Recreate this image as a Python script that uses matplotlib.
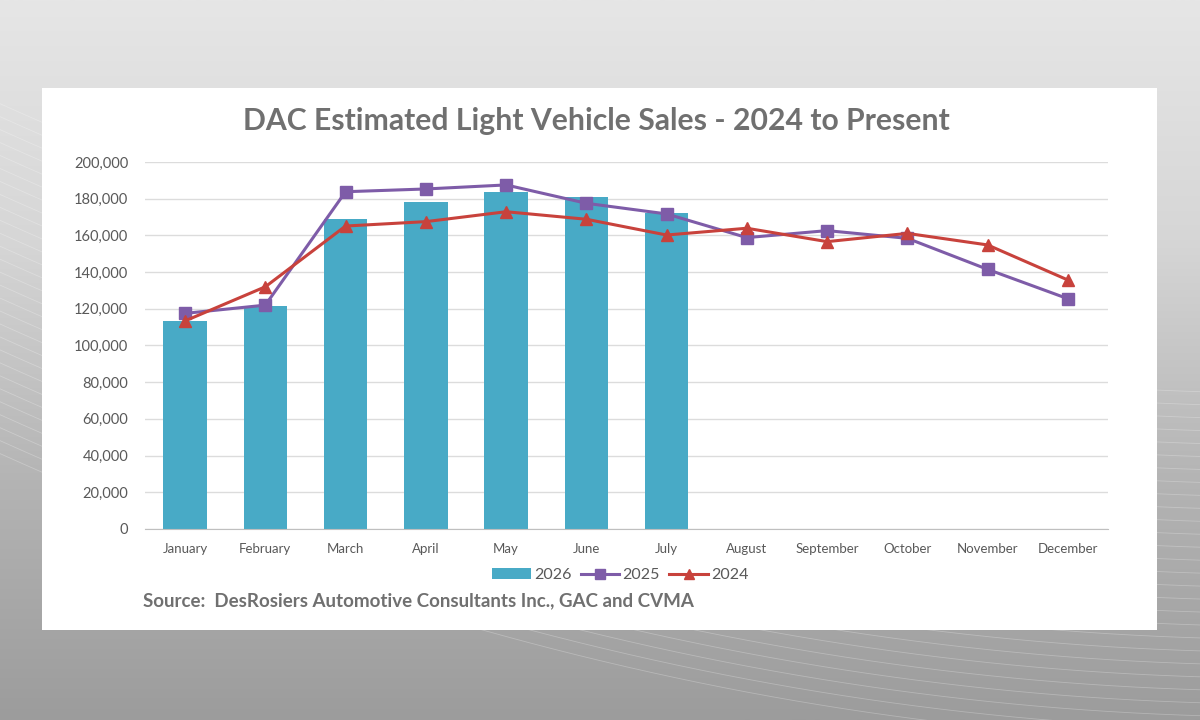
import numpy as np
import matplotlib
matplotlib.use("Agg")
import matplotlib.pyplot as plt
from matplotlib.patches import Rectangle, Patch
from matplotlib.lines import Line2D
from matplotlib.ticker import FuncFormatter


MONTHS = ["January", "February", "March", "April", "May", "June", "July",
          "August", "September", "October", "November", "December"]

SALES_2026 = [113500, 121500, 168800, 178000, 183500, 181000, 172000]
SALES_2025 = [117500, 122000, 183800, 185300, 187500, 177500, 171700,
              158800, 162600, 158400, 141500, 125500]
SALES_2024 = [113400, 132000, 165100, 167500, 172900, 168800, 160200,
              163900, 156600, 161100, 154800, 135700]

TITLE = "DAC Estimated Light Vehicle Sales - 2024 to Present"
SOURCE = "Source:  DesRosiers Automotive Consultants Inc., GAC and CVMA"

BAR_COLOR = "#48aac6"
C_2025 = "#7e5ca8"
C_2024 = "#c8423c"
GRID = "#dcdcdc"
TEXT = "#595959"

plt.rcParams["font.family"] = ["Lato", "DejaVu Sans"]

fig = plt.figure(figsize=(12, 7.2), dpi=100)

# grey backdrop with soft light streaks, white card on top
bg = fig.add_axes([0, 0, 1, 1], zorder=-1)
bg.set_xlim(0, 1)
bg.set_ylim(0, 1)
grad = np.linspace(0, 1, 256).reshape(-1, 1)
cmap = matplotlib.colors.LinearSegmentedColormap.from_list(
    "bg", ["#9c9c9c", "#b4b4b4", "#d6d6d6", "#e6e6e6"])
bg.imshow(grad, cmap=cmap, extent=[0, 1, 0, 1], origin="lower", aspect="auto")
xs = np.linspace(0, 1, 200)
for k in range(28):
    off = k * 0.018
    bg.plot(xs, 0.02 + off + 0.35 * (1 - xs) ** 2 - 0.05 * xs, color="white",
            alpha=0.25, lw=0.6)
bg.add_patch(Rectangle((0.035, 0.125), 0.929, 0.753, facecolor="white",
                       edgecolor="none", zorder=5))
bg.axis("off")

ax = fig.add_axes([0.1208, 0.2653, 0.8025, 0.5097])
ax.set_facecolor("none")
x = np.arange(len(MONTHS))

ax.bar(x[:len(SALES_2026)], SALES_2026, width=0.54, color=BAR_COLOR, zorder=2)
ax.plot(x, SALES_2025, color=C_2025, lw=2.2, marker="s", ms=8, zorder=3)
ax.plot(x, SALES_2024, color=C_2024, lw=2.2, marker="^", ms=8, zorder=4)

ax.set_xlim(-0.5, 11.5)
ax.set_ylim(0, 200000)
ax.set_yticks(np.arange(0, 200001, 20000))
ax.yaxis.set_major_formatter(FuncFormatter(lambda v, p: f"{int(v):,}"))
ax.set_xticks(x)
ax.set_xticklabels(MONTHS)
ax.grid(axis="y", color=GRID, lw=1, zorder=0)
ax.set_axisbelow(True)
for s in ["top", "right", "left"]:
    ax.spines[s].set_visible(False)
ax.spines["bottom"].set_color("#bfbfbf")
ax.tick_params(axis="both", length=0, colors=TEXT)
ax.tick_params(axis="y", labelsize=10.5, pad=12)
ax.tick_params(axis="x", labelsize=9.5, pad=10)

fig.text(0.497, 0.832, TITLE, ha="center", va="center", fontsize=21.7,
         fontweight="bold", color="#707070")

handles = [Patch(facecolor=BAR_COLOR),
           Line2D([], [], color=C_2025, lw=2.2, marker="s", ms=7),
           Line2D([], [], color=C_2024, lw=2.2, marker="^", ms=7)]
fig.legend(handles, ["2026", "2025", "2024"], loc="center", ncol=3,
           bbox_to_anchor=(0.517, 0.201), frameon=False, fontsize=11.5,
           handlelength=2.4, handletextpad=0.2, columnspacing=0.6,
           labelcolor=TEXT)

fig.text(0.119, 0.166, SOURCE, ha="left", va="center", fontsize=13.5,
         fontweight="bold", color="#707070")

fig.savefig("out.png", dpi=100)
